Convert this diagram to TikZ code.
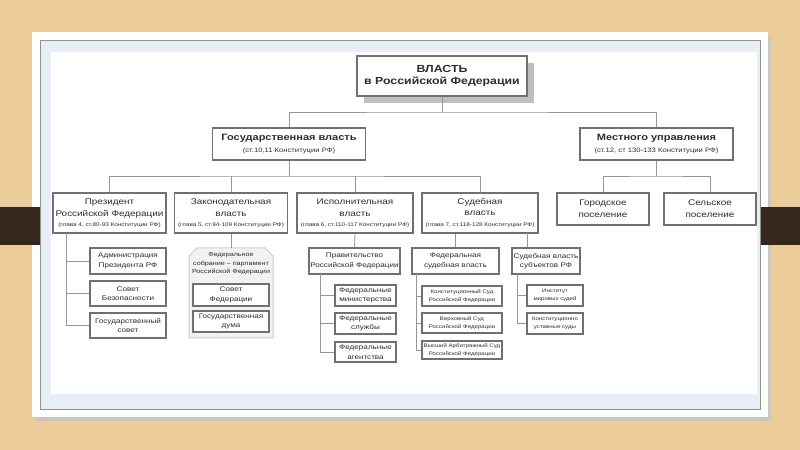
\documentclass[tikz,border=0pt]{standalone}
\usepackage{fontspec}
\setmainfont[FakeStretch=1.2]{Liberation Sans}
\usepackage{xcolor}
\usepackage{tikz}
\usetikzlibrary{positioning, shadows}

\definecolor{wood}{RGB}{236,205,154}
\definecolor{band}{RGB}{52,40,30}
\definecolor{frameline}{RGB}{138,154,118}
\definecolor{margin}{RGB}{231,238,247}
\definecolor{boxline}{RGB}{112,112,112}
\definecolor{ink}{RGB}{45,45,45}
\definecolor{wirecol}{RGB}{150,150,150}

\newcommand{\konst}[1]{{\fontsize{5.3}{7}\selectfont #1}}
\newcommand{\headkonst}[1]{{\fontsize{6.4}{8}\selectfont\mdseries #1}}

\begin{document}
\begin{tikzpicture}[x=1bp, y=-1bp,
  box/.style={rectangle, draw=boxline, line width=1.8bp, fill=white, text=ink, align=center, inner sep=1bp, font=\fontsize{8.3}{11.8}\selectfont},
  headbox/.style={box, minimum width=153bp, minimum height=32bp, font=\fontsize{9.2}{11.5}\selectfont\bfseries},
  subbox/.style={rectangle, draw=boxline, line width=1.2bp, fill=white, text=ink, align=center, inner sep=1bp, font=\fontsize{6.8}{9.5}\selectfont},
  tinybox/.style={subbox, font=\fontsize{5.1}{8}\selectfont},
  wire/.style={draw=wirecol, line width=0.8bp}]

\useasboundingbox (0,0) rectangle (800,450);
\fill[wood] (0,0) rectangle (800,450);
\fill[black!22] (35,36) rectangle (771,421);
\fill[white] (32,32) rectangle (768,417);
\fill[band] (0,207) rectangle (40,245);
\fill[band] (760,207) rectangle (800,245);
\fill[margin] (40,41) rectangle (760,409);
\draw[frameline, line width=1bp] (40,41) rectangle (760,409);
\fill[white] (51,52) rectangle (757,394);

\node[box, minimum width=170bp, minimum height=40bp, font=\fontsize{10.3}{13}\selectfont\bfseries,
  drop shadow={shadow xshift=7bp, shadow yshift=-7bp, fill=black!25, opacity=1}] (vlast) at (442,76) {ВЛАСТЬ\\в Российской Федерации};

\node[headbox] (gos) at (289,144) {Государственная власть\\\headkonst{(ст.10,11 Конституции РФ)}};
\node[headbox] (mest) at (656.5,144) {Местного управления\\\headkonst{(ст.12, ст 130-133 Конституции РФ)}};

\node[box, minimum width=113bp, minimum height=40bp] (pres) at (109.5,213) {Президент\\Российской Федерации\\[-2bp]\konst{(глава 4, ст.80-93 Конституции РФ)}};
\node[box, minimum width=113bp, minimum height=40bp] (zak) at (231,213) {Законодательная\\власть\\[-2bp]\konst{(глава 5, ст.94-109 Конституции РФ)}};
\node[box, minimum width=116bp, minimum height=40bp] (isp) at (355,213) {Исполнительная\\власть\\[-2bp]\konst{(глава 6, ст.110-117 Конституции РФ)}};
\node[box, minimum width=116bp, minimum height=40bp] (sud) at (480,213) {Судебная\\власть\\[-1bp]\konst{(глава 7, ст.118-128 Конституции РФ)}};
\node[box, minimum width=92bp, minimum height=32bp] (gor) at (603,209) {Городское\\поселение};
\node[box, minimum width=92bp, minimum height=32bp] (sel) at (710,209) {Сельское\\поселение};

\node[subbox, minimum width=76bp, minimum height=26bp] (adm) at (128,261) {Администрация\\Президента РФ};
\node[subbox, minimum width=76bp, minimum height=25bp] (sovbez) at (128,293.5) {Совет\\Безопасности};
\node[subbox, minimum width=76bp, minimum height=25bp] (gossov) at (128,325.5) {Государственный\\совет};

\coordinate (fedsobr) at (231,248);
\filldraw[draw=black!20, fill=black!5, line width=1bp] (189,256) -- (197,248) -- (265,248) -- (273,256) -- (273,338) -- (189,338) -- cycle;
\node[text=ink, align=center, font=\fontsize{6}{8.5}\selectfont, inner sep=0pt] (fedsobrtxt) at (231,264) {Федеральное\\собрание -- парламент\\Российской Федерации};
\node[subbox, minimum width=76bp, minimum height=22bp] (sovfed) at (231,295) {Совет\\Федерации};
\node[subbox, minimum width=76bp, minimum height=21bp] (gosduma) at (231,321.5) {Государственная\\дума};

\node[subbox, minimum width=91bp, minimum height=26bp] (prav) at (354.5,261) {Правительство\\Российской Федерации};
\node[subbox, minimum width=61bp, minimum height=21bp] (fedmin) at (365.5,295.5) {Федеральные\\министерства};
\node[subbox, minimum width=61bp, minimum height=21bp] (fedsl) at (365.5,323.5) {Федеральные\\службы};
\node[subbox, minimum width=61bp, minimum height=20bp] (fedag) at (365.5,352) {Федеральные\\агентства};

\node[subbox, minimum width=87bp, minimum height=26bp] (fedsud) at (455.5,261) {Федеральная\\судебная власть};
\node[tinybox, minimum width=80bp, minimum height=20bp] (ks) at (462,296) {Конституционный Суд\\Российской Федерации};
\node[tinybox, minimum width=80bp, minimum height=20bp] (vs) at (462,323) {Верховный Суд\\Российской Федерации};
\node[tinybox, minimum width=80bp, minimum height=18bp] (vas) at (462,350) {Высший Арбитражный Суд\\Российской Федерации};

\node[subbox, minimum width=68bp, minimum height=26bp] (subsud) at (546,261) {Судебная власть\\субъектов РФ};
\node[tinybox, minimum width=56bp, minimum height=21bp] (mir) at (555,295.5) {Институт\\мировых судей};
\node[tinybox, minimum width=56bp, minimum height=21bp] (kus) at (555,323.5) {Конституционно\\уставные суды};

\coordinate (split1) at (442,112);
\coordinate (split2) at (289,176);
\coordinate (split3) at (656.5,176);
\coordinate (presbus) at (66,233);
\coordinate (subtap) at (527,233);
\coordinate (pravbus) at (320,274);
\coordinate (fedbus) at (416,274);
\coordinate (subbus) at (517,274);

\draw[wire] (vlast.south) -- (split1);
\draw[wire] (gos.north) |- (split1) -| (mest.north);
\draw[wire] (gos.south) -- (split2);
\draw[wire] (pres.north) |- (split2) -| (sud.north);
\draw[wire] (zak.north) -- (zak.north |- split2);
\draw[wire] (isp.north) -- (isp.north |- split2);
\draw[wire] (mest.south) -- (split3);
\draw[wire] (gor.north) |- (split3) -| (sel.north);

\draw[wire] (presbus) |- (gossov.west);
\draw[wire] (presbus |- adm.west) -- (adm.west);
\draw[wire] (presbus |- sovbez.west) -- (sovbez.west);
\draw[wire] (zak.south) -- (fedsobr);
\draw[wire] (isp.south) -- (prav.north);
\draw[wire] (pravbus) |- (fedag.west);
\draw[wire] (pravbus |- fedmin.west) -- (fedmin.west);
\draw[wire] (pravbus |- fedsl.west) -- (fedsl.west);
\draw[wire] (fedsud.north |- sud.south) -- (fedsud.north);
\draw[wire] (subtap) -- (subtap |- subsud.north);
\draw[wire] (fedbus) |- (vas.west);
\draw[wire] (fedbus |- ks.west) -- (ks.west);
\draw[wire] (fedbus |- vs.west) -- (vs.west);
\draw[wire] (subbus) |- (kus.west);
\draw[wire] (subbus |- mir.west) -- (mir.west);

\end{tikzpicture}
\end{document}
